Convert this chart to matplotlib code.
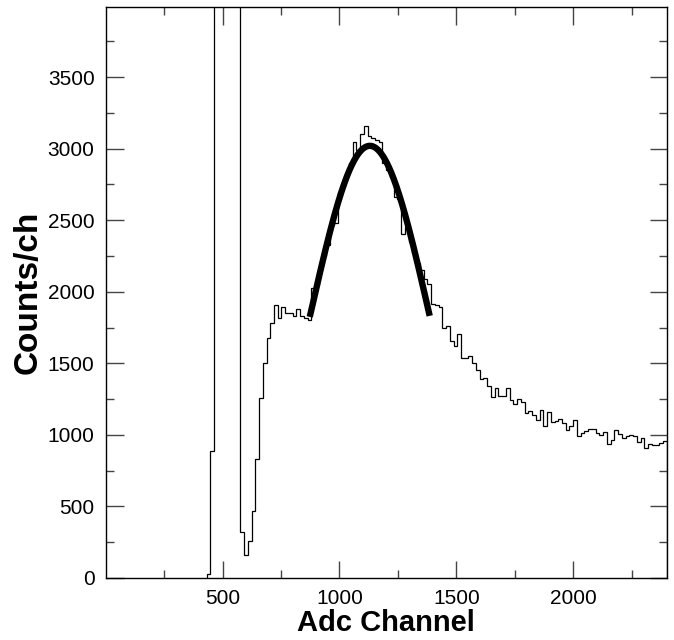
import matplotlib
matplotlib.use('Agg')
import matplotlib.pyplot as plt
import numpy as np

plt.rcParams['font.family'] = ['Liberation Sans', 'DejaVu Sans']

# histogram: 16-channel bins starting at channel 432, last edge at 2400
bin_start = 432
bin_width = 16
counts = [
    30, 890,
    25000, 25000, 25000, 25000, 25000, 25000, 25000,   # off-scale pedestal
    320, 160, 260, 470, 830, 1260, 1500, 1675, 1785, 1905,
    1820, 1895, 1855, 1850, 1830, 1880, 1830, 1820, 1800, 2030,
    2050, 2180, 2250, 2330, 2470, 2480, 2700, 2740, 2830, 2900,
    3046, 2990, 3104, 3158, 3088, 3074, 3058, 3050, 2900, 2850,
    2800, 2660, 2650, 2405, 2450, 2350, 2270, 2200, 2150, 2090,
    2053, 1913, 1905, 1895, 1750, 1761, 1656, 1621, 1703, 1540,
    1540, 1551, 1504, 1453, 1388, 1399, 1341, 1266, 1329, 1271,
    1271, 1329, 1247, 1219, 1252, 1229, 1154, 1165, 1142, 1107,
    1177, 1060, 1158, 1088, 1095, 1112, 1084, 1037, 1060, 1102,
    990, 1014, 1025, 1042, 1042, 1014, 1002, 1018, 939, 967,
    1032, 1009, 979, 990, 1002, 990, 948, 979, 909, 939,
    932, 932, 944, 955,
]

# gaussian fit of the peak
fit_amp = 3020
fit_mean = 1130
fit_sigma = 256
fit_range = (873, 1386)

x_ticks = [500, 1000, 1500, 2000]
y_ticks = [0, 500, 1000, 1500, 2000, 2500, 3000, 3500]

fig = plt.figure(figsize=(6.74, 6.40), dpi=100)
ax = fig.add_axes([0.1568, 0.0969, 0.9892 - 0.1568, 0.989 - 0.0969])

edges = bin_start + bin_width * np.arange(len(counts) + 1)
ax.stairs(counts, edges, baseline=0, color='black', linewidth=0.9)

xf = np.linspace(fit_range[0], fit_range[1], 300)
yf = fit_amp * np.exp(-0.5 * ((xf - fit_mean) / fit_sigma) ** 2)
ax.plot(xf, yf, color='black', linewidth=4.6, solid_capstyle='butt')

ax.set_xlim(0, 2400)
ax.set_ylim(0, 3990)
ax.set_xticks(x_ticks)
ax.set_yticks(y_ticks)
ax.set_xticks(np.arange(250, 2400, 500), minor=True)
ax.set_yticks(np.arange(250, 4000, 500), minor=True)
ax.tick_params(which='both', direction='in', top=True, right=True,
               color='#444444', width=1, labelsize=15)
ax.tick_params(which='major', length=12.6, pad=8)
ax.tick_params(which='minor', length=6.1)
for s in ax.spines.values():
    s.set_linewidth(1)

ax.set_xlabel('Adc Channel', fontsize=21, fontweight='bold', labelpad=1)
ax.set_ylabel('Counts/ch', fontsize=24, fontweight='bold', labelpad=3)

plt.savefig('out.png', dpi=100, facecolor='white')
plt.close()
